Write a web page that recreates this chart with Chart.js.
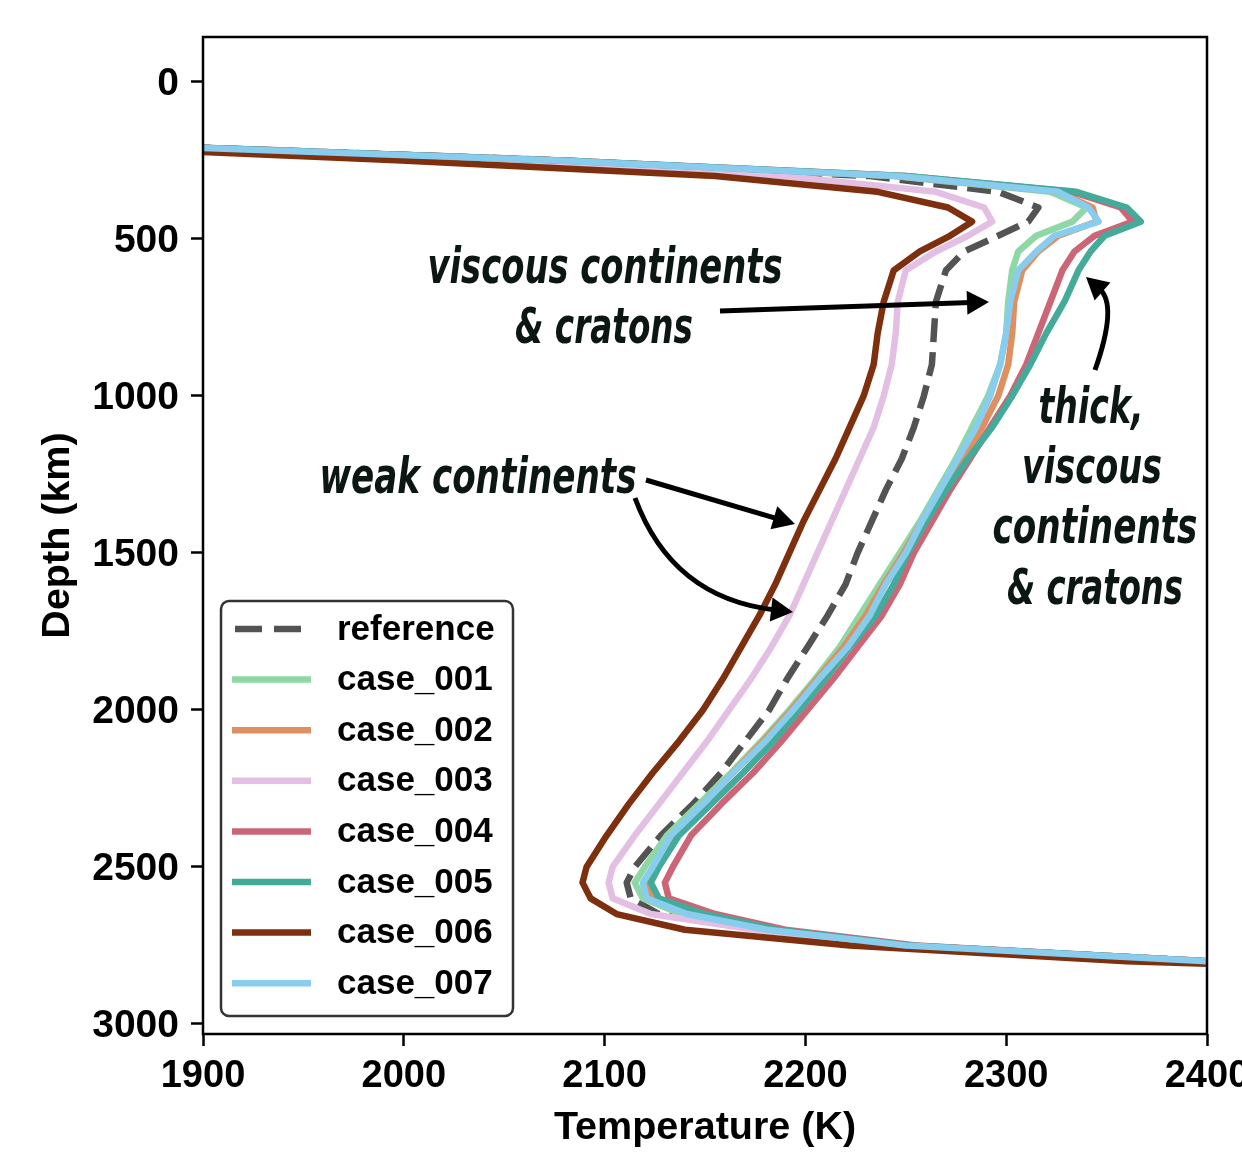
<!DOCTYPE html>
<html>
<head>
<meta charset="utf-8">
<script src="https://cdn.jsdelivr.net/npm/chart.js@4.4.1/dist/chart.umd.min.js"></script>
<style>
  html, body { margin: 0; padding: 0; background: #fff; overflow: hidden; }
  #wrap { width: 1300px; height: 1152px; }
</style>
</head>
<body>
<div id="wrap"><canvas id="profile" width="1300" height="1152"></canvas></div>
<script>
// depth samples (km) shared by every profile
const depths = [200, 250, 300, 350, 400, 445, 490, 540, 600, 700, 800, 900, 1000, 1100, 1200, 1300, 1400, 1500,
  1600, 1700, 1800, 1900, 2000, 2100, 2200, 2300, 2400, 2500, 2550, 2600, 2650, 2700, 2750, 2800, 2850];

// temperature (K) at each depth
const reference = [1858, 2080, 2232, 2296, 2316, 2311, 2296, 2279, 2270, 2265, 2264, 2263, 2259, 2254, 2248, 2240, 2233, 2226,
  2220, 2211, 2201, 2191, 2182, 2170, 2158, 2144, 2128, 2115, 2111, 2113, 2127, 2178, 2250, 2400, 2650];
const case001 = [1855, 2076, 2244, 2322, 2340, 2333, 2315, 2306, 2303, 2301, 2300, 2297, 2291, 2283, 2275, 2266, 2257, 2247,
  2237, 2227, 2217, 2205, 2192, 2178, 2163, 2147, 2131, 2120, 2115, 2119, 2138, 2180, 2250, 2400, 2650];
const case002 = [1855, 2077, 2246, 2326, 2343, 2345, 2326, 2316, 2308, 2304, 2303, 2301, 2296, 2288, 2279, 2268, 2258, 2249,
  2239, 2230, 2219, 2206, 2193, 2179, 2164, 2149, 2135, 2126, 2122, 2124, 2145, 2183, 2251, 2400, 2650];
const case003 = [1842, 2052, 2190, 2265, 2289, 2293, 2281, 2265, 2250, 2246, 2245, 2243, 2239, 2234, 2227, 2220, 2213, 2206,
  2199, 2192, 2183, 2173, 2162, 2151, 2139, 2127, 2115, 2104, 2102, 2104, 2123, 2175, 2248, 2400, 2650];
const case004 = [1856, 2079, 2250, 2333, 2357, 2363, 2344, 2334, 2328, 2322, 2316, 2310, 2302, 2292, 2282, 2272, 2263, 2254,
  2247, 2238, 2226, 2214, 2201, 2188, 2174, 2158, 2143, 2134, 2130, 2132, 2155, 2190, 2255, 2400, 2650];
const case005 = [1856, 2079, 2250, 2335, 2360, 2367, 2349, 2342, 2336, 2329, 2320, 2312, 2303, 2293, 2281, 2270, 2260, 2251,
  2244, 2235, 2222, 2210, 2197, 2184, 2169, 2153, 2137, 2127, 2123, 2127, 2150, 2186, 2252, 2400, 2650];
const case006 = [1815, 1999, 2155, 2236, 2271, 2283, 2272, 2257, 2244, 2239, 2236, 2234, 2229, 2222, 2215, 2207, 2199, 2192,
  2185, 2177, 2168, 2159, 2149, 2137, 2124, 2112, 2101, 2091, 2089, 2093, 2106, 2140, 2222, 2360, 2600];
const case007 = [1855, 2076, 2246, 2326, 2341, 2346, 2324, 2315, 2306, 2302, 2300, 2297, 2292, 2285, 2276, 2267, 2258, 2250,
  2240, 2232, 2221, 2207, 2194, 2180, 2164, 2149, 2133, 2124, 2119, 2121, 2141, 2181, 2250, 2400, 2650];

const seriesNames = ['reference', 'case_001', 'case_002', 'case_003', 'case_004', 'case_005', 'case_006', 'case_007'];
const seriesTemps = [reference, case001, case002, case003, case004, case005, case006, case007];
const seriesColors = ['#535353', '#8ed8a5', '#e08f5f', '#e3c0e3', '#cc6677', '#44aa99', '#7e2f0e', '#88ccee'];

const xTicks = [1900, 2000, 2100, 2200, 2300, 2400];
const yTicks = [0, 500, 1000, 1500, 2000, 2500, 3000];

const LW = 6.5;
const DASH = [24, 10];
const axisFont = '"Liberation Sans", Arial, sans-serif';
const annoFont = '"Liberation Sans Narrow", "DejaVu Sans Condensed", "Liberation Sans", sans-serif';

const datasets = seriesNames.map((name, i) => ({
  label: name,
  data: depths.map((d, j) => ({ x: seriesTemps[i][j], y: d })),
  borderColor: seriesColors[i],
  borderWidth: LW,
  borderDash: i === 0 ? DASH : [],
  borderCapStyle: 'butt',
  borderJoinStyle: 'round',
  pointRadius: 0,
  showLine: true,
  fill: false,
  tension: 0,
  order: seriesNames.length - i  // later series drawn on top
}));

// black box round the plot area
const framePlugin = {
  id: 'frame',
  afterDatasetsDraw(chart) {
    const { ctx, chartArea: a } = chart;
    ctx.save();
    ctx.strokeStyle = '#000';
    ctx.lineWidth = 2.5;
    ctx.strokeRect(a.left, a.top, a.right - a.left, a.bottom - a.top);
    ctx.restore();
  }
};

// legend sits inside the plot, lower left
const legendPlugin = {
  id: 'insideLegend',
  afterDraw(chart) {
    const ctx = chart.ctx;
    const x0 = 221, y0 = 601, w = 292, h = 415;
    ctx.save();
    ctx.beginPath();
    ctx.roundRect(x0, y0, w, h, 8);
    ctx.fillStyle = '#fff';
    ctx.fill();
    ctx.lineWidth = 2.5;
    ctx.strokeStyle = '#333';
    ctx.stroke();
    ctx.font = 'bold 35px ' + axisFont;
    ctx.textBaseline = 'middle';
    ctx.textAlign = 'left';
    chart.data.datasets.forEach((ds, i) => {
      const y = 629 + i * 50.6;
      ctx.beginPath();
      ctx.strokeStyle = ds.borderColor;
      ctx.lineWidth = LW;
      ctx.lineCap = 'butt';
      if (i === 0) {
        ctx.setLineDash([27, 12]);
        ctx.moveTo(235, y); ctx.lineTo(301, y);
      } else {
        ctx.setLineDash([]);
        ctx.moveTo(232, y); ctx.lineTo(311, y);
      }
      ctx.stroke();
      ctx.setLineDash([]);
      ctx.fillStyle = '#000';
      ctx.fillText(ds.label, 337, y + 1);
    });
    ctx.restore();
  }
};

function annoText(ctx, text, cx, base, width) {
  ctx.save();
  ctx.font = 'italic bold 49px ' + annoFont;
  const m = ctx.measureText(text).width;
  ctx.translate(cx, base);
  ctx.scale(width / m, 1);
  ctx.textAlign = 'center';
  ctx.textBaseline = 'alphabetic';
  ctx.fillStyle = '#0c1714';
  ctx.fillText(text, 0, 0);
  ctx.restore();
}

function arrowHead(ctx, tx, ty, dx, dy) {
  const len = Math.hypot(dx, dy);
  const ux = dx / len, uy = dy / len;
  const hl = 22, hw = 12;
  ctx.beginPath();
  ctx.moveTo(tx, ty);
  ctx.lineTo(tx - ux * hl - uy * hw, ty - uy * hl + ux * hw);
  ctx.lineTo(tx - ux * hl + uy * hw, ty - uy * hl - ux * hw);
  ctx.closePath();
  ctx.fill();
}

function straightArrow(ctx, x1, y1, x2, y2) {
  const dx = x2 - x1, dy = y2 - y1, len = Math.hypot(dx, dy);
  ctx.beginPath();
  ctx.moveTo(x1, y1);
  ctx.lineTo(x2 - dx / len * 18, y2 - dy / len * 18);
  ctx.stroke();
  arrowHead(ctx, x2, y2, dx, dy);
}

function curvedArrow(ctx, x1, y1, cx, cy, x2, y2) {
  const dx = x2 - cx, dy = y2 - cy, len = Math.hypot(dx, dy);
  ctx.beginPath();
  ctx.moveTo(x1, y1);
  ctx.quadraticCurveTo(cx, cy, x2 - dx / len * 18, y2 - dy / len * 18);
  ctx.stroke();
  arrowHead(ctx, x2, y2, dx, dy);
}

const annotationPlugin = {
  id: 'notes',
  afterDraw(chart) {
    const ctx = chart.ctx;
    annoText(ctx, 'viscous continents', 605, 283, 355);
    annoText(ctx, '& cratons', 604, 343, 178);
    annoText(ctx, 'weak continents', 478, 493, 317);
    annoText(ctx, 'thick,', 1091, 423, 105);
    annoText(ctx, 'viscous', 1092, 483, 140);
    annoText(ctx, 'continents', 1095, 543, 205);
    annoText(ctx, '& cratons', 1095, 604, 176);

    ctx.save();
    ctx.strokeStyle = '#000';
    ctx.fillStyle = '#000';
    ctx.lineWidth = 5;
    ctx.lineCap = 'butt';
    straightArrow(ctx, 720, 311, 989, 302);
    straightArrow(ctx, 646, 480, 795, 524);
    curvedArrow(ctx, 635, 498, 672, 598, 793, 612);
    curvedArrow(ctx, 1095, 370, 1118, 305, 1086, 277);
    ctx.restore();
  }
};

Chart.defaults.font.family = axisFont;
Chart.defaults.color = '#000';

new Chart(document.getElementById('profile'), {
  type: 'scatter',
  data: { datasets },
  options: {
    responsive: false,
    animation: false,
    layout: { padding: { top: 37, right: 93, bottom: 0, left: 0 } },
    plugins: {
      legend: { display: false },
      tooltip: { enabled: false }
    },
    scales: {
      x: {
        type: 'linear',
        min: 1900,
        max: 2400,
        afterBuildTicks: s => { s.ticks = xTicks.map(v => ({ value: v })); },
        afterFit: s => { s.height = 118; },
        ticks: { font: { size: 38, weight: 'bold' }, padding: 8, color: '#000', maxRotation: 0, callback: v => String(v) },
        grid: { drawOnChartArea: false, drawTicks: true, tickLength: 12, tickWidth: 2.5, tickColor: '#000' },
        border: { display: false },
        title: { display: true, text: 'Temperature (K)', font: { size: 39.5, weight: 'bold' }, color: '#000', padding: { top: 0, bottom: 0 } }
      },
      y: {
        type: 'linear',
        reverse: true,
        min: -143,
        max: 3032,
        afterBuildTicks: s => { s.ticks = yTicks.map(v => ({ value: v })); },
        afterFit: s => { s.width = 203; },
        ticks: { font: { size: 39, weight: 'bold' }, padding: 12, labelOffset: 2, color: '#000', callback: v => String(v) },
        grid: { drawOnChartArea: false, drawTicks: true, tickLength: 12, tickWidth: 2.5, tickColor: '#000' },
        border: { display: false },
        title: { display: true, text: 'Depth (km)', font: { size: 39.5, weight: 'bold' }, color: '#000', padding: { top: 34, bottom: 0 } }
      }
    }
  },
  plugins: [framePlugin, legendPlugin, annotationPlugin]
});
</script>
</body>
</html>
